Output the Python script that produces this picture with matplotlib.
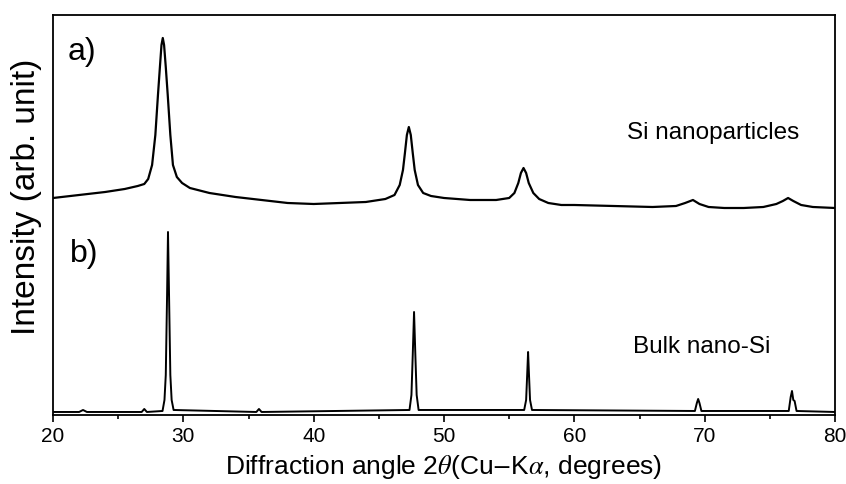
import matplotlib.pyplot as plt

plt.rcParams['font.family'] = ['Liberation Sans', 'DejaVu Sans']
plt.rcParams['mathtext.fontset'] = 'stix'

# Curva a) Si nanoparticles (intensidad en unidades arbitrarias)
x_a = [20, 22, 24, 25.5, 26.5, 27.0, 27.3, 27.6, 27.85, 28.05, 28.2, 28.32,
       28.42, 28.52, 28.65, 28.8, 29.0, 29.2, 29.5, 29.9, 30.5, 32, 34, 36,
       38, 40, 42, 44, 45.5, 46.2, 46.6, 46.85, 47.0, 47.15, 47.3, 47.45, 47.6,
       47.75, 48.0, 48.4, 49, 50, 52, 54, 55.0, 55.4, 55.7, 55.9, 56.1, 56.3,
       56.5, 56.85, 57.3, 58.0, 59, 60, 63, 66, 67.8, 68.5, 69.1, 69.6, 70.3,
       71.5, 73, 74.5, 75.5, 76.0, 76.4, 76.8, 77.4, 78.3, 80]
y_a = [217, 220, 223, 226, 229, 231, 236, 250, 280, 320, 348, 370,
       377, 370, 348, 320, 280, 250, 238, 232, 227, 222, 218, 215,
       212, 211, 212, 213, 216, 220, 230, 245, 262, 280, 288, 280, 262,
       245, 230, 222, 219, 217, 215, 215, 217, 222, 232, 242, 247, 242,
       232, 222, 216, 212, 210, 210, 209, 208, 209, 212, 215, 211, 208,
       207, 207, 208, 211, 214, 217, 214, 210, 208, 207]

# Curva b) Bulk nano-Si
x_b = [20, 22, 22.3, 22.6, 26.8, 27.0, 27.2, 28.4, 28.55, 28.65, 28.75, 28.82,
       28.9, 29.0, 29.1, 29.25, 35.6, 35.8, 36.0, 47.35, 47.5, 47.6, 47.7,
       47.8, 47.9, 48.05, 56.15, 56.3, 56.38, 56.45, 56.52, 56.6, 56.75,
       69.25, 69.4, 69.5, 69.6, 69.75, 76.45, 76.6, 76.7, 76.8, 76.9, 77.05, 80]
y_b = [3, 3, 5, 3, 3, 6, 3, 4, 15, 40, 120, 183,
       120, 40, 15, 5, 3, 6, 3, 5, 20, 60, 103,
       60, 20, 5, 5, 15, 40, 63, 40, 15, 5,
       4, 12, 16, 12, 4, 4, 18, 24, 15, 14, 4, 3]

fig = plt.figure(figsize=(8.46, 4.84), dpi=100)
ax = fig.add_axes([0.0627, 0.1426, 0.9243, 0.8264])

ax.plot(x_a, y_a, color='black', lw=1.6)
ax.plot(x_b, y_b, color='black', lw=1.4)

ax.set_xlim(20, 80)
ax.set_ylim(0, 400)
ax.set_yticks([])
ax.set_xticks(range(20, 81, 10))
ax.set_xticks(range(25, 80, 10), minor=True)
ax.tick_params(axis='x', which='major', direction='out', length=5, width=1.2,
               labelsize=15, top=False)
ax.tick_params(axis='x', which='minor', direction='out', length=3, width=1.2)
for s in ax.spines.values():
    s.set_linewidth(1.3)

ax.text(0.037, 0.9075, 'a)', transform=ax.transAxes, fontsize=23, ha='center', va='center')
ax.text(0.04, 0.4025, 'b)', transform=ax.transAxes, fontsize=23, ha='center', va='center')
ax.text(0.844, 0.705, 'Si nanoparticles', transform=ax.transAxes, fontsize=17.5,
        ha='center', va='center')
ax.text(0.83, 0.17, 'Bulk nano-Si', transform=ax.transAxes, fontsize=17.5,
        ha='center', va='center')

ax.set_xlabel(r'Diffraction angle 2$\theta$(Cu$-$K$\alpha$, degrees)', fontsize=19, labelpad=5)
ax.set_ylabel('Intensity (arb. unit)', fontsize=24)
ax.yaxis.set_label_coords(-0.014, 0.545)

fig.savefig('out.png', dpi=100)
